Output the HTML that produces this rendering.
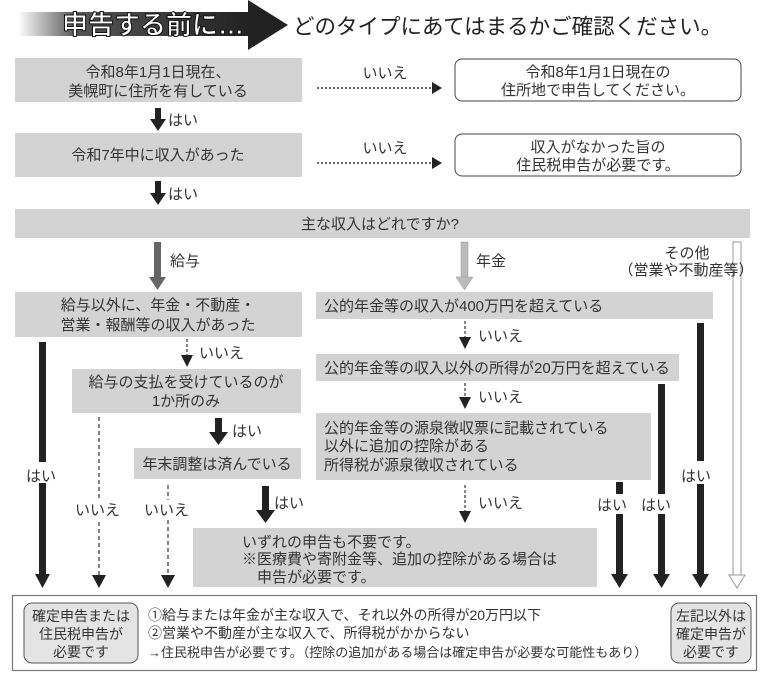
<!DOCTYPE html>
<html><head><meta charset="utf-8"><style>
html,body{margin:0;padding:0;background:#fff;}
svg{display:block;font-family:"Liberation Sans","Noto Sans CJK JP",sans-serif;}
</style></head><body>
<svg width="767" height="678" viewBox="0 0 767 678" xmlns="http://www.w3.org/2000/svg">
<defs>
<linearGradient id="g" x1="0" x2="1"><stop offset="0" stop-color="#fff"/><stop offset="0.25" stop-color="#555"/><stop offset="1" stop-color="#222"/></linearGradient>
</defs>
<rect x="18" y="12" width="232" height="24" fill="url(#g)"/>
<polygon points="248,0 288,25 248,50" fill="#222"/>
<text x="62" y="34" font-size="26" fill="#fff" stroke="#111" stroke-width="1" font-weight="bold">申告する前に…</text>
<text x="293" y="34" font-size="21.5" fill="#222">どのタイプにあてはまるかご確認ください。</text>

<g font-size="15" fill="#333">
<rect x="15" y="58" width="287" height="44" fill="#d3d3d3"/>
<text x="158" y="77" text-anchor="middle">令和8年1月1日現在、</text>
<text x="158" y="96" text-anchor="middle">美幌町に住所を有している</text>
<text x="385" y="78" text-anchor="middle">いいえ</text>
<line x1="317" y1="88" x2="432" y2="88" stroke="#333" stroke-width="1.5" stroke-dasharray="2,2"/>
<polygon points="432,82 442,88 432,94" fill="#222"/>
<rect x="455" y="59" width="286" height="42" rx="7" fill="#fff" stroke="#444" stroke-width="1"/>
<text x="598" y="77" text-anchor="middle">令和8年1月1日現在の</text>
<text x="598" y="95" text-anchor="middle">住所地で申告してください。</text>
<rect x="155" y="108" width="6" height="12" fill="#222"/><polygon points="150,119 166,119 158,131" fill="#222"/>
<text x="168" y="125">はい</text>
<rect x="15" y="133" width="287" height="44" fill="#d3d3d3"/>
<text x="158" y="160" text-anchor="middle">令和7年中に収入があった</text>
<text x="385" y="153" text-anchor="middle">いいえ</text>
<line x1="317" y1="163" x2="432" y2="163" stroke="#333" stroke-width="1.5" stroke-dasharray="2,2"/>
<polygon points="432,157 442,163 432,169" fill="#222"/>
<rect x="455" y="134" width="286" height="42" rx="7" fill="#fff" stroke="#444" stroke-width="1"/>
<text x="598" y="152" text-anchor="middle">収入がなかった旨の</text>
<text x="598" y="170" text-anchor="middle">住民税申告が必要です。</text>
<rect x="155" y="181" width="6" height="13" fill="#222"/><polygon points="150,193 166,193 158,205" fill="#222"/>
<text x="168" y="199">はい</text>
<rect x="15" y="209" width="735" height="29" fill="#d3d3d3"/>
<text x="380" y="229" text-anchor="middle">主な収入はどれですか?</text>
<rect x="154" y="242" width="7" height="36" fill="#666"/><polygon points="149,277 166,277 157.5,290" fill="#666"/>
<text x="170" y="266">給与</text>
<rect x="461" y="242" width="7" height="36" fill="#bbb" stroke="#999" stroke-width="0.5"/><polygon points="456,277 473,277 464.5,290" fill="#bbb" stroke="#999" stroke-width="0.5"/>
<text x="476" y="266">年金</text>
<rect x="733" y="242" width="8" height="334" fill="#fff" stroke="#999" stroke-width="1"/>
<polygon points="729,575 745,575 737,588" fill="#fff" stroke="#999" stroke-width="1"/>
<text x="687" y="258" text-anchor="middle">その他</text>
<text x="686" y="275" text-anchor="middle">（営業や不動産等）</text>
<rect x="15" y="292" width="287" height="45" fill="#d3d3d3"/>
<text x="158" y="310" text-anchor="middle">給与以外に、年金・不動産・</text>
<text x="158" y="330" text-anchor="middle">営業・報酬等の収入があった</text>
<line x1="187" y1="339" x2="187" y2="356" stroke="#333" stroke-width="1.2" stroke-dasharray="3,2"/>
<polygon points="181,355 193,355 187,367" fill="#222"/>
<text x="199" y="358">いいえ</text>
<rect x="72" y="369" width="229" height="44" fill="#d3d3d3"/>
<text x="186" y="387" text-anchor="middle">給与の支払を受けているのが</text>
<text x="186" y="406" text-anchor="middle">1か所のみ</text>
<rect x="215" y="418" width="7" height="15" fill="#222"/><polygon points="209,432 228,432 218.5,445" fill="#222"/>
<text x="232" y="436">はい</text>
<rect x="134" y="448" width="167" height="31" fill="#d3d3d3"/>
<text x="217" y="469" text-anchor="middle">年末調整は済んでいる</text>
<rect x="39" y="342" width="7" height="120" fill="#222"/>
<rect x="39" y="483" width="7" height="92" fill="#222"/>
<polygon points="35,574 50,574 42.5,588" fill="#222"/>
<text x="26" y="481">はい</text>
<line x1="99" y1="417" x2="99" y2="576" stroke="#333" stroke-width="1.2" stroke-dasharray="4,3"/>
<polygon points="92,575 106,575 99,588" fill="#222"/>
<rect x="74" y="500" width="50" height="20" fill="#fff"/>
<text x="75" y="515">いいえ</text>
<line x1="168" y1="485" x2="168" y2="576" stroke="#333" stroke-width="1.2" stroke-dasharray="4,3"/>
<polygon points="161,575 175,575 168,588" fill="#222"/>
<rect x="143" y="500" width="50" height="20" fill="#fff"/>
<text x="144" y="515">いいえ</text>
<rect x="262" y="486" width="7" height="26" fill="#222"/><polygon points="256,510 275,510 265.5,523" fill="#222"/>
<text x="274" y="508">はい</text>
<rect x="316" y="292" width="397" height="27" fill="#d3d3d3"/>
<text x="324" y="311">公的年金等の収入が400万円を超えている</text>
<line x1="465" y1="321" x2="465" y2="338" stroke="#333" stroke-width="1.2" stroke-dasharray="3,2"/>
<polygon points="459,337 471,337 465,349" fill="#222"/>
<text x="478" y="341">いいえ</text>
<rect x="316" y="354" width="363" height="27" fill="#d3d3d3"/>
<text x="324" y="373">公的年金等の収入以外の所得が20万円を超えている</text>
<line x1="465" y1="383" x2="465" y2="398" stroke="#333" stroke-width="1.2" stroke-dasharray="3,2"/>
<polygon points="459,397 471,397 465,409" fill="#222"/>
<text x="478" y="402">いいえ</text>
<rect x="316" y="413" width="335" height="67" fill="#d3d3d3"/>
<text x="324" y="433">公的年金等の源泉徴収票に記載されている</text>
<text x="324" y="451">以外に追加の控除がある</text>
<text x="324" y="470">所得税が源泉徴収されている</text>
<line x1="465" y1="485" x2="465" y2="512" stroke="#333" stroke-width="1.2" stroke-dasharray="3,2"/>
<polygon points="459,511 471,511 465,523" fill="#222"/>
<text x="478" y="508">いいえ</text>
<rect x="193" y="528" width="404" height="59" fill="#d3d3d3"/>
<text x="242" y="547">いずれの申告も不要です。</text>
<text x="242" y="564">※医療費や寄附金等、追加の控除がある場合は</text>
<text x="257" y="582">申告が必要です。</text>
<rect x="616" y="482" width="7" height="12" fill="#222"/>
<rect x="616" y="514" width="7" height="61" fill="#222"/>
<polygon points="611,574 628,574 619.5,588" fill="#222"/>
<text x="597" y="510">はい</text>
<rect x="658" y="384" width="7" height="110" fill="#222"/>
<rect x="658" y="514" width="7" height="61" fill="#222"/>
<polygon points="653,574 670,574 661.5,588" fill="#222"/>
<text x="641" y="510">はい</text>
<rect x="697" y="323" width="7" height="138" fill="#222"/>
<rect x="697" y="484" width="7" height="91" fill="#222"/>
<polygon points="692,574 709,574 700.5,588" fill="#222"/>
<text x="681" y="481">はい</text>
</g>
<rect x="12.5" y="595.5" width="744" height="75" fill="#fff" stroke="#777" stroke-width="1.2"/>
<rect x="24" y="603" width="114" height="60" rx="8" fill="#e4e4e4" stroke="#555" stroke-width="1"/>
<g font-size="14" fill="#333" text-anchor="middle">
<text x="81" y="621">確定申告または</text>
<text x="81" y="639">住民税申告が</text>
<text x="81" y="657">必要です</text>
</g>
<rect x="671" y="603" width="80" height="60" rx="8" fill="#e4e4e4" stroke="#555" stroke-width="1"/>
<g font-size="14" fill="#333" text-anchor="middle">
<text x="711" y="621">左記以外は</text>
<text x="711" y="639">確定申告が</text>
<text x="711" y="657">必要です</text>
</g>
<g font-size="14" fill="#333">
<text x="148" y="620">①給与または年金が主な収入で、それ以外の所得が20万円以下</text>
<text x="148" y="638">②営業や不動産が主な収入で、所得税がかからない</text>
<text x="148" y="657" font-size="13">→住民税申告が必要です。（控除の追加がある場合は確定申告が必要な可能性もあり）</text>
</g>
</svg>
</body></html>
